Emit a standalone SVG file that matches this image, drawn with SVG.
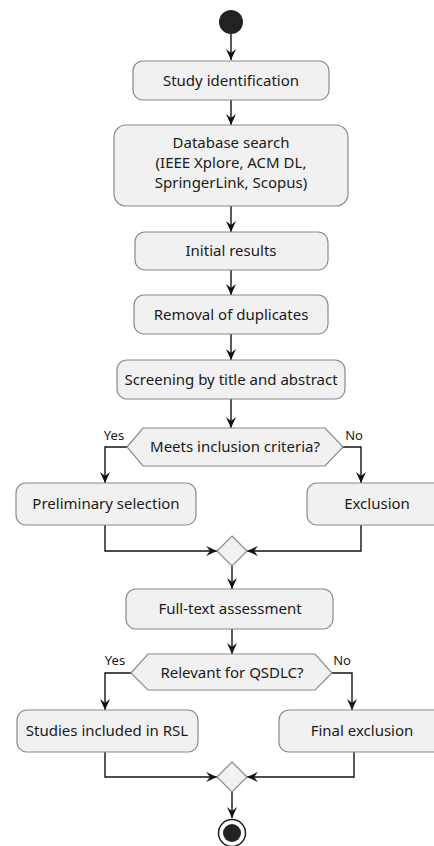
<svg xmlns="http://www.w3.org/2000/svg" width="434" height="846" viewBox="0 0 434 846">
<defs>
<marker id="arr" markerUnits="userSpaceOnUse" markerWidth="12" markerHeight="12" viewBox="0 0 12 12" refX="11" refY="6" orient="auto">
<path d="M0,1 L11,6 L0,11 L4,6 Z" fill="#111"/>
</marker>
<style>
.box{fill:#f1f1f1;stroke:#8a8a8a;stroke-width:1.2}
.t{font-family:"Noto Sans","Open Sans",sans-serif;font-size:15px;fill:#1a1a1a;text-anchor:middle}
.lbl{font-family:"Noto Sans","Open Sans",sans-serif;font-size:13px;fill:#1a1a1a;text-anchor:middle}
.c{fill:none;stroke:#111;stroke-width:1.4;marker-end:url(#arr)}
</style>
</defs>
<rect width="434" height="846" fill="#ffffff"/>
<g id="connectors">
<path class="c" d="M231,34 V60"/>
<path class="c" d="M231,100 V125"/>
<path class="c" d="M231,206 V232"/>
<path class="c" d="M231,270 V295"/>
<path class="c" d="M231,334 V360"/>
<path class="c" d="M231,399 V428"/>
<path class="c" d="M127,447 H105 V483"/>
<path class="c" d="M343,447 H361 V483"/>
<path class="c" d="M105,525 V551 H217"/>
<path class="c" d="M361,525 V551 H247"/>
<path class="c" d="M232,566 V589"/>
<path class="c" d="M232,629 V654"/>
<path class="c" d="M131,673 H105 V710"/>
<path class="c" d="M332,673 H352 V710"/>
<path class="c" d="M105,752 V777 H217"/>
<path class="c" d="M354,752 V777 H247"/>
<path class="c" d="M232,792 V818"/>
</g>
<g id="start"><circle cx="231" cy="22" r="12" fill="#222"/></g>
<g id="study-identification"><rect class="box" x="133" y="61" width="196" height="39" rx="10"/><text class="t" x="231" y="86">Study identification</text></g>
<g id="database-search"><rect class="box" x="114" y="125" width="234" height="81" rx="12"/><text class="t" x="231" y="148">Database search</text><text class="t" x="231" y="168">(IEEE Xplore, ACM DL,</text><text class="t" x="231" y="188">SpringerLink, Scopus)</text></g>
<g id="initial-results"><rect class="box" x="135" y="232" width="193" height="38" rx="10"/><text class="t" x="231" y="256">Initial results</text></g>
<g id="removal-duplicates"><rect class="box" x="134" y="295" width="194" height="39" rx="10"/><text class="t" x="231" y="320">Removal of duplicates</text></g>
<g id="screening"><rect class="box" x="117" y="360" width="228" height="39" rx="10"/><text class="t" x="231" y="385">Screening by title and abstract</text></g>
<g id="decision-inclusion"><polygon class="box" points="127,447 143,428 325,428 343,447 325,466 143,466"/><text class="t" x="235" y="452">Meets inclusion criteria?</text><text class="lbl" x="114" y="440">Yes</text><text class="lbl" x="354" y="440">No</text></g>
<g id="preliminary-selection"><rect class="box" x="16" y="483" width="180" height="42" rx="10"/><text class="t" x="106" y="509">Preliminary selection</text></g>
<g id="exclusion"><rect class="box" x="307" y="483" width="140" height="42" rx="10"/><text class="t" x="377" y="509">Exclusion</text></g>
<g id="merge1"><polygon class="box" points="232,536 247,551 232,566 217,551"/></g>
<g id="full-text"><rect class="box" x="126" y="589" width="207" height="40" rx="10"/><text class="t" x="230" y="614">Full-text assessment</text></g>
<g id="decision-relevant"><polygon class="box" points="131,673 148,654 315,654 332,673 315,690 148,690"/><text class="t" x="232" y="678">Relevant for QSDLC?</text><text class="lbl" x="115" y="665">Yes</text><text class="lbl" x="342" y="665">No</text></g>
<g id="studies-included"><rect class="box" x="17" y="710" width="181" height="42" rx="10"/><text class="t" x="107" y="736">Studies included in RSL</text></g>
<g id="final-exclusion"><rect class="box" x="279" y="710" width="166" height="42" rx="10"/><text class="t" x="362" y="736">Final exclusion</text></g>
<g id="merge2"><polygon class="box" points="232,762 247,777 232,792 217,777"/></g>
<g id="end"><circle cx="232" cy="833" r="13.5" fill="#fff" stroke="#222" stroke-width="1.5"/><circle cx="232" cy="833" r="9" fill="#222"/></g>
</svg>
